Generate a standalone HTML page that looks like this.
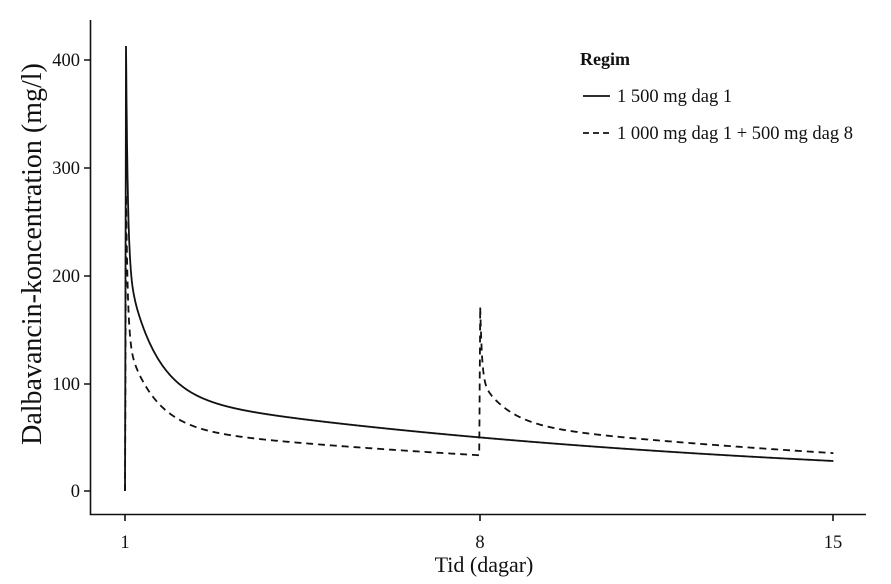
<!DOCTYPE html>
<html><head><meta charset="utf-8"><style>
body{margin:0;background:#fff}
svg{display:block;font-family:"Liberation Serif",serif}
</style></head><body>
<svg id="s" width="891" height="584" viewBox="0 0 891 584">
<g stroke="#111" stroke-width="1.6" fill="none">
<path d="M90.5,20V514.5H866"/>
<path d="M84,491H90M84,384H90M84,276H90M84,168H90M84,60H90"/>
<path d="M125,514V521M480,514V521M833,514V521"/>
<path id="p1" stroke-width="1.8"/>
<path id="p2" stroke-width="1.8" stroke-dasharray="7,5"/>
<path d="M583,96H610" stroke-width="1.8"/>
<path d="M583,133H612" stroke-width="1.8" stroke-dasharray="6,4"/>
</g>
<g font-size="18.5" fill="#111" text-anchor="end">
<text x="80" y="497">0</text><text x="80" y="390">100</text><text x="80" y="282">200</text><text x="80" y="174">300</text><text x="80" y="66">400</text>
</g>
<g font-size="18.5" fill="#111" text-anchor="middle">
<text x="125" y="548">1</text><text x="480" y="548">8</text><text x="833" y="548">15</text>
</g>
<text x="484" y="572" font-size="22" text-anchor="middle" fill="#111">Tid (dagar)</text>
<text transform="translate(41,254) rotate(-90)" font-size="28" text-anchor="middle" fill="#111">Dalbavancin-koncentration (mg/l)</text>
<text x="580" y="65" font-size="18" font-weight="bold" fill="#111">Regim</text>
<text x="617" y="102" font-size="18.5" fill="#111">1 500 mg dag 1</text>
<text x="617" y="139" font-size="18.5" fill="#111">1 000 mg dag 1 + 500 mg dag 8</text>
</svg>
<script>
function C(t){if(t<0)return 0;if(t<0.02)return 413*t/0.02;return 357*Math.exp(-27.8*t)+126*Math.exp(-1.82*t)+89*Math.exp(-0.083*t);}
function X(d){return 125+(d-1)*50.6;}function Y(c){return 491-c*1.0775;}
var a="M"+X(1)+","+Y(0),b=a;
for(var d=1;d<=15.0001;d+=0.005){
 var t=d-1;a+="L"+X(d).toFixed(1)+","+Y(C(t)).toFixed(1);
 b+="L"+X(d).toFixed(1)+","+Y(C(t)*2/3+C(d-8)/3).toFixed(1);}
document.getElementById("p1").setAttribute("d",a);
document.getElementById("p2").setAttribute("d",b);
</script>
</body></html>
